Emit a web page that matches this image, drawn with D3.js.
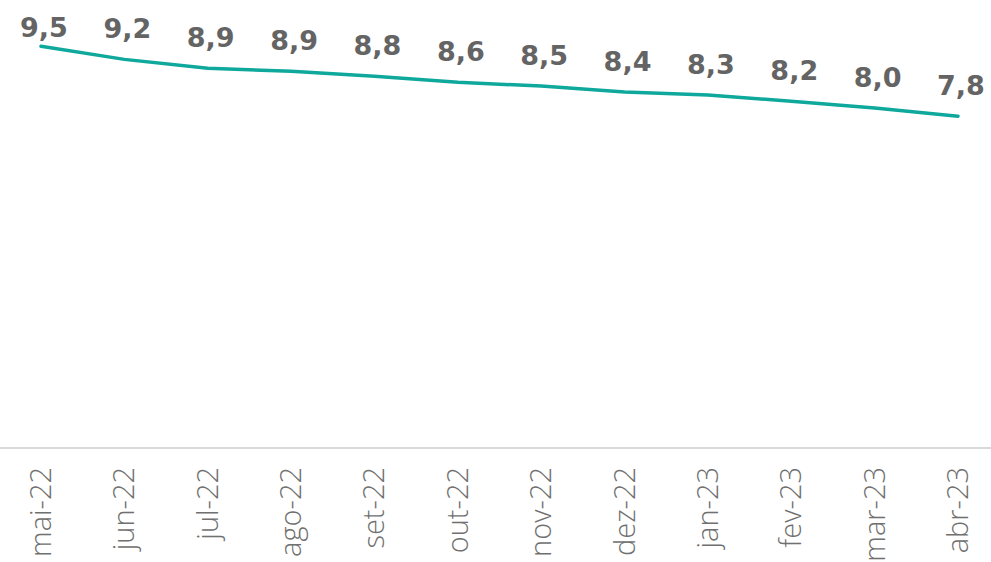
<!DOCTYPE html>
<html>
<head>
	<meta charset="utf-8">
	<script src="https://d3js.org/d3.v7.min.js"></script>
	<style>
		body { margin: 0; background: #fff; }
		svg text.val { font-family: 'DejaVu Sans', Verdana, sans-serif; font-weight: bold; font-size: 27px; fill: #646464; }
		svg text.tick { font-family: 'Open Sans', sans-serif; font-weight: 300; font-size: 29px; fill: #707070; }
	</style>
</head>
<body>
	<script>
		var months = ['mai-22', 'jun-22', 'jul-22', 'ago-22', 'set-22', 'out-22', 'nov-22', 'dez-22', 'jan-23', 'fev-23', 'mar-23', 'abr-23'];
		var values = [9.48, 9.17, 8.96, 8.89, 8.77, 8.63, 8.54, 8.40, 8.33, 8.18, 8.02, 7.83];
		var labels = ['9,5', '9,2', '8,9', '8,9', '8,8', '8,6', '8,5', '8,4', '8,3', '8,2', '8,0', '7,8'];

		var w = 991, h = 562;
		var axisY = 448;

		var svg = d3.select('body').append('svg')
			.attr('width', w)
			.attr('height', h);

		var x = d3.scalePoint().domain(months).range([41, 958]);
		var y = d3.scaleLinear().domain([0, 10.5]).range([axisY, 3]);

		// base line
		svg.append('line')
			.attr('x1', 0).attr('x2', w)
			.attr('y1', axisY).attr('y2', axisY)
			.attr('stroke', '#d9d9d9')
			.attr('stroke-width', 2);

		var line = d3.line()
			.x(function (d, i) { return x(months[i]); })
			.y(function (d) { return y(d); });

		svg.append('path')
			.datum(values)
			.attr('d', line)
			.attr('fill', 'none')
			.attr('stroke', '#0fa89c')
			.attr('stroke-width', 3.5)
			.attr('stroke-linecap', 'round');

		svg.selectAll('text.val')
			.data(values)
			.enter()
			.append('text')
			.attr('class', 'val')
			.attr('text-anchor', 'middle')
			.attr('x', function (d, i) { return x(months[i]) + 3; })
			.attr('y', function (d) { return Math.max(y(d) - 21, 37); })
			.text(function (d, i) { return labels[i]; });

		svg.selectAll('text.tick')
			.data(months)
			.enter()
			.append('text')
			.attr('class', 'tick')
			.attr('text-anchor', 'end')
			.attr('transform', function (d) { return 'translate(' + (x(d) + 10) + ',' + 467 + ') rotate(-90)'; })
			.text(function (d) { return d; });
	</script>
</body>
</html>
